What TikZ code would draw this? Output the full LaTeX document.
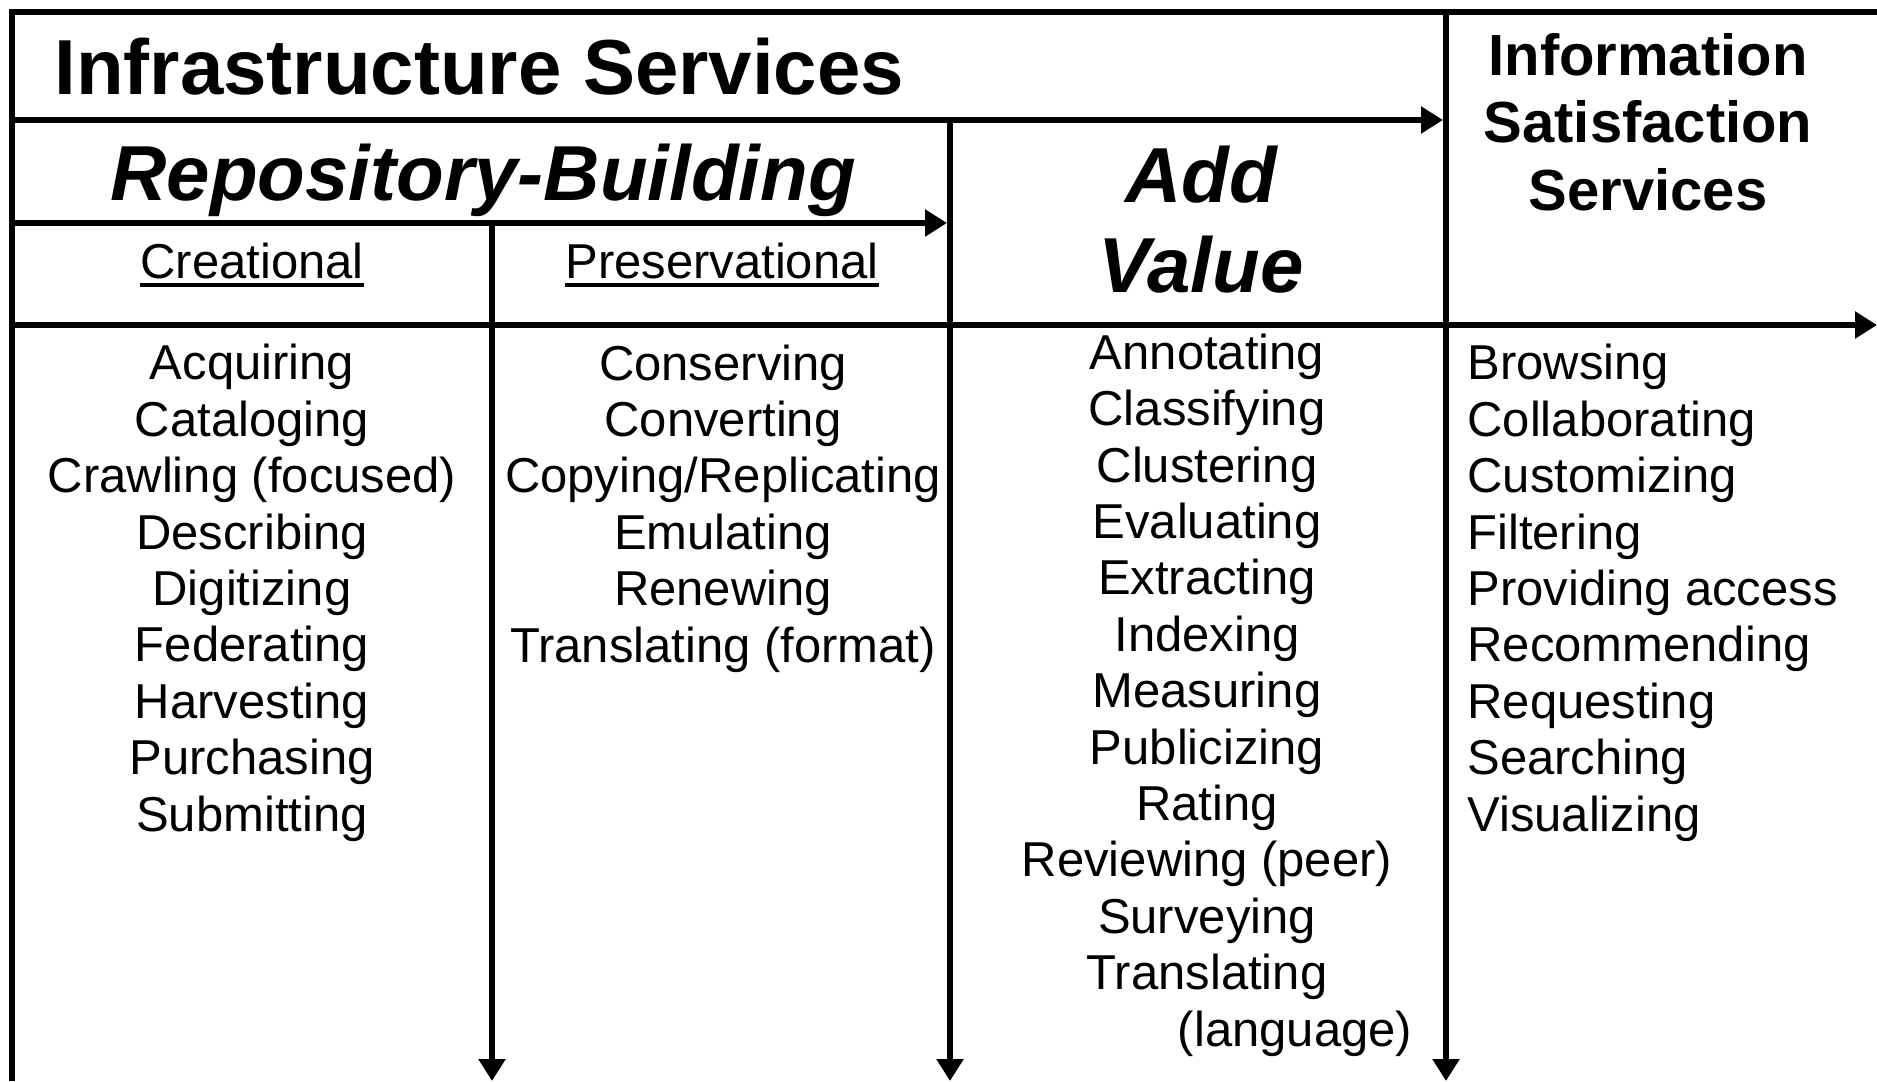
\documentclass[tikz,border=0pt]{standalone}
\usepackage{fontspec}
\setmainfont{Liberation Sans}
\usepackage{tikz}
\usetikzlibrary{arrows.meta}

\newcommand{\hdunder}[1]{\setbox0\hbox{#1}\rlap{\rule[-4.4pt]{\wd0}{1.8pt}}\box0}

\begin{document}
\begin{tikzpicture}[x=0.5pt,y=-0.5pt,
		bar/.style={line width=3pt},
		tip/.style={-{Triangle[length=11pt,width=13pt]}},
		bigtitle/.style={font=\fontsize{39}{45}\selectfont\bfseries, inner sep=0pt, anchor=base},
		bigslant/.style={bigtitle, font=\fontsize{39}{45}\selectfont\bfseries\itshape},
		infohead/.style={font=\fontsize{29}{33.75}\selectfont\bfseries, inner sep=0pt, anchor=base, align=center},
		colhead/.style={font=\fontsize{24.5}{28.2}\selectfont, inner sep=0pt, anchor=base},
		items/.style={colhead, align=center}]
		\useasboundingbox (0,0) rectangle (1877,1081);
		% frame corners and rule ends
		\coordinate (tl) at (12,12);
		\coordinate (tr) at (1877,12);
		\coordinate (bl) at (12,1081);
		\coordinate (r1w) at (12,120);
		\coordinate (r1e) at (1443,120);
		\coordinate (r2w) at (12,223);
		\coordinate (r2e) at (947,223);
		\coordinate (r3w) at (12,325);
		\coordinate (r3e) at (1877,325);
		\coordinate (c1n) at (492,223);
		\coordinate (c1s) at (492,1081);
		\coordinate (c2n) at (950,120);
		\coordinate (c2s) at (950,1081);
		\coordinate (c3n) at (1446,12);
		\coordinate (c3s) at (1446,1081);
		\draw[bar] (tr) -- (tl) -- (bl);
		\draw[bar,tip] (r1w) -- (r1e);
		\draw[bar,tip] (r2w) -- (r2e);
		\draw[bar,tip] (r3w) -- (r3e);
		\draw[bar,tip] (c1n) -- (c1s);
		\draw[bar,tip] (c2n) -- (c2s);
		\draw[bar,tip] (c3n) -- (c3s);
		% headings (multi-line nodes sit on their last line)
		\node[bigtitle, anchor=base west] (infra) at (54,95) {Infrastructure Services};
		\node[bigslant] (repo) at (483,200) {Repository-Building};
		\node[bigslant, align=center] (addv) at (1201,292) {Add\\Value};
		\node[infohead] (info) at (1648,210) {Information\\Satisfaction\\Services};
		\node[colhead] (crea) at (252,278) {\hdunder{Creational}};
		\node[colhead] (pres) at (722,278) {\hdunder{Preservational}};
		% service lists
		\node[items] (crealist) at (252,831) {Acquiring\\Cataloging\\Crawling (focused)\\Describing\\Digitizing\\Federating\\Harvesting\\Purchasing\\Submitting};
		\node[items] (preslist) at (723,662) {Conserving\\Converting\\Copying/Replicating\\Emulating\\Renewing\\Translating (format)};
		\node[items] (addlist) at (1207,1046) {Annotating\\Classifying\\Clustering\\Evaluating\\Extracting\\Indexing\\Measuring\\Publicizing\\Rating\\Reviewing (peer)\\Surveying\\Translating\\\makebox[0pt]{\hspace{88pt}(language)}};
		\node[colhead, align=left, anchor=base west] (infolist) at (1467,831) {Browsing\\Collaborating\\Customizing\\Filtering\\Providing access\\Recommending\\Requesting\\Searching\\Visualizing};
\end{tikzpicture}
\end{document}
